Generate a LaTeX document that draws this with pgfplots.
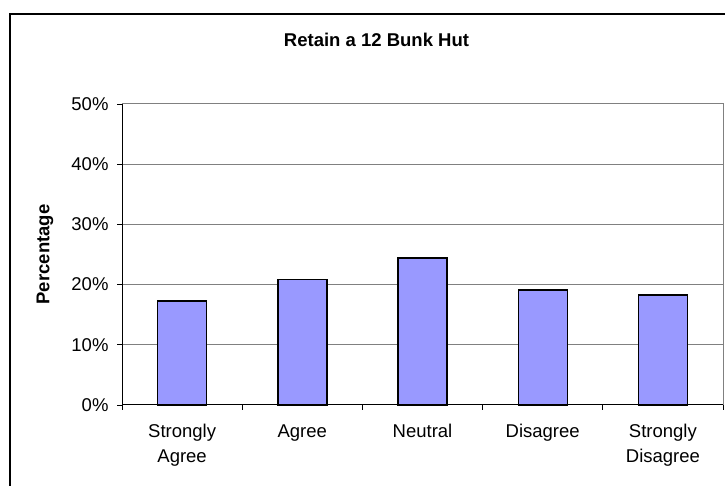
\documentclass[border=0pt]{standalone}
\usepackage{pgfplots}
\pgfplotsset{compat=1.18}
\usepackage{fontspec}
\setmainfont{Liberation Sans}
\definecolor{barfill}{HTML}{9999FF}
\definecolor{gridgray}{HTML}{808080}
\newcommand\chartfont{\fontsize{18.5bp}{25bp}\selectfont}

\pgfplotstableread{
pos value
0.5 17.3
1.5 20.8
2.5 24.4
3.5 19.1
4.5 18.3
}\hutdata

\begin{document}
\begin{tikzpicture}[x=1bp,y=1bp]
\useasboundingbox (0,0) rectangle (725,486);
% chart frame (runs off the right and bottom edges)
\draw[line width=1.5bp] (10,472) rectangle (780,-30);
% chart title
\node[font=\chartfont\bfseries] at (376.5,446) {Retain a 12 Bunk Hut};
\begin{axis}[
  at={(122bp,81bp)}, anchor=origin,
  scale only axis,
  width=601bp, height=301bp,
  xmin=0, xmax=5, ymin=0, ymax=50,
  axis x line*=bottom, axis y line*=left,
  axis line style={line width=1bp, black},
  ytick={0,10,20,30,40,50},
  yticklabel={\pgfmathprintnumber{\tick}\%},
  /pgf/number format/assume math mode=true,
  ymajorgrids,
  grid style={gridgray, line width=1bp},
  tick align=outside,
  major tick length=5bp,
  tick style={black, line width=0.9bp},
  ytick pos=left, xtick pos=bottom,
  % category boundaries carry the tick marks
  xtick={0,1,2,3,4,5},
  xticklabels={},
  % category names sit at the bar centres
  extra x ticks={0.5,1.5,2.5,3.5,4.5},
  extra x tick labels={Strongly\\Agree, Agree, Neutral, Disagree, Strongly\\Disagree},
  extra x tick style={major tick length=0pt, grid=none},
  xticklabel style={font=\chartfont, align=center, anchor=north, yshift=-16bp},
  yticklabel style={font=\chartfont, anchor=east, xshift=-5bp},
  ylabel={Percentage},
  ylabel style={font=\chartfont\bfseries, at={(axis description cs:-0.128,0.5)}, anchor=center, rotate=0},
  clip=false,
]
\addplot[ybar, bar width=49bp, fill=barfill, draw=black, line width=1.4bp] table[x=pos, y=value] {\hutdata};
% plot-area border on the top and right
\draw[gridgray, line width=1bp] (rel axis cs:0,1) -- (rel axis cs:1,1) -- (rel axis cs:1,0);
\end{axis}
\end{tikzpicture}
\end{document}
